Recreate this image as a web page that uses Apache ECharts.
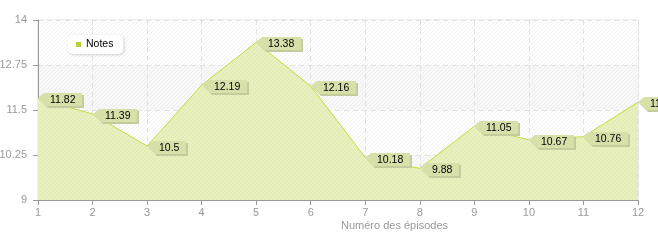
<!DOCTYPE html>
<html><head><meta charset="utf-8">
<script src="https://cdn.jsdelivr.net/npm/echarts@6/dist/echarts.min.js"></script>
<style>html,body{margin:0;padding:0;background:#fff}#c{width:658px;height:240px}</style>
</head><body><div id="c"></div>
<script>
const categories = ['1','2','3','4','5','6','7','8','9','10','11','12'];
const notes = [11.82, 11.39, 10.5, 12.19, 13.38, 12.16, 10.18, 9.88, 11.05, 10.67, 10.76, 11.72];
const yTickLabels = ['9','10.25','11.5','12.75','14'];
const seriesName = 'Notes';
const xAxisTitle = 'Numéro des épisodes';

const FONT = 'Liberation Sans, Arial, sans-serif';
const FS = 10.5;

function hatch(bg, line) {
  const s = 4, c = document.createElement('canvas');
  c.width = s; c.height = s;
  const g = c.getContext('2d');
  g.fillStyle = bg; g.fillRect(0, 0, s, s);
  g.strokeStyle = line; g.lineWidth = 1;
  g.beginPath();
  g.moveTo(-1, s + 1); g.lineTo(s + 1, -1);
  g.moveTo(-1, 1); g.lineTo(1, -1);
  g.moveTo(s - 1, s + 1); g.lineTo(s + 1, s - 1);
  g.stroke();
  return { image: c, repeat: 'repeat' };
}
const mctx = document.createElement('canvas').getContext('2d');
mctx.font = FS + 'px ' + FONT;
function tw(t) { return mctx.measureText(t).width; }

const chart = echarts.init(document.getElementById('c'), null, { renderer: 'canvas' });
chart.setOption({
  animation: false,
  textStyle: { fontFamily: FONT },
  grid: { left: 38, right: 20, top: 20, bottom: 40, containLabel: false, outerBoundsMode: 'none',
          show: true, borderColor: '#dedede', borderWidth: 1, backgroundColor: 'transparent' },
  legend: {
    data: [seriesName], left: 68, top: 35, padding: [4, 10, 4, 8],
    icon: 'rect', itemWidth: 5, itemHeight: 5, itemGap: 6,
    backgroundColor: '#fff', borderRadius: 5,
    shadowBlur: 3, shadowColor: 'rgba(0,0,0,0.18)', shadowOffsetX: 1, shadowOffsetY: 1,
    textStyle: { color: '#000', fontSize: FS, fontFamily: FONT }
  },
  xAxis: {
    type: 'category', data: categories, boundaryGap: false,
    axisLine: { lineStyle: { color: '#999' } },
    axisTick: { show: true, length: 5, lineStyle: { color: '#999' } },
    axisLabel: { color: '#999', fontSize: 11, margin: 7 },
    splitLine: { show: true, lineStyle: { color: '#e2e2e2', type: [5, 4] } }
  },
  yAxis: [
    { type: 'value', min: 9, max: 14, show: false, splitLine: { show: false } },
    {
      type: 'category', data: yTickLabels, boundaryGap: false, position: 'left',
      axisLine: { show: true, lineStyle: { color: '#999' } },
      axisTick: { show: true, length: 5, lineStyle: { color: '#999' } },
      axisLabel: { color: '#999', fontSize: 11, margin: 11 },
      splitLine: { show: true, lineStyle: { color: '#e2e2e2', type: [5, 4] } },
      splitArea: { show: true, areaStyle: { color: [hatch('#f8f8f8', '#eeeeee'), hatch('#ffffff', '#f1f1f1')] } }
    }
  ],
  series: [
    {
      name: seriesName, type: 'line', yAxisIndex: 0, data: notes,
      showSymbol: false, symbol: 'none',
      lineStyle: { color: '#c4dd3a', width: 1 },
      itemStyle: { color: '#b5d334' },
      areaStyle: { color: hatch('#e8f0bf', '#e0eab0'), opacity: 1 },
      z: 2
    },
    {
      name: 'tags', type: 'custom', yAxisIndex: 0, clip: false, z: 5, silent: true,
      data: notes.map((v, i) => [i, v]),
      renderItem: function (params, api) {
        const p = api.coord([api.value(0), api.value(1)]);
        const x = Math.round(p[0]), y = Math.round(p[1]);
        const txt = String(notes[params.dataIndex]);
        const w = Math.round(tw(txt)) + 19;
        const pts = [[0, 0], [6, -5], [w, -5], [w, 8], [8, 8]];
        const mk = (dx, dy) => pts.map(q => [x + q[0] + dx, y + q[1] + dy]);
        return {
          type: 'group',
          children: [
            { type: 'polygon', shape: { points: mk(2, 2) }, style: { fill: '#c4cb9c' } },
            { type: 'polygon', shape: { points: mk(0, 0) }, style: { fill: '#d7e0a9' } },
            { type: 'text', style: { x: x + 12, y: y + 2, text: txt, fill: '#000', font: FS + 'px ' + FONT, textVerticalAlign: 'middle', verticalAlign: 'middle' } }
          ]
        };
      }
    }
  ],
  graphic: [
    { type: 'text', left: 341, top: 220, style: { text: xAxisTitle, fill: '#999', font: '11px ' + FONT } }
  ]
});
</script></body></html>
